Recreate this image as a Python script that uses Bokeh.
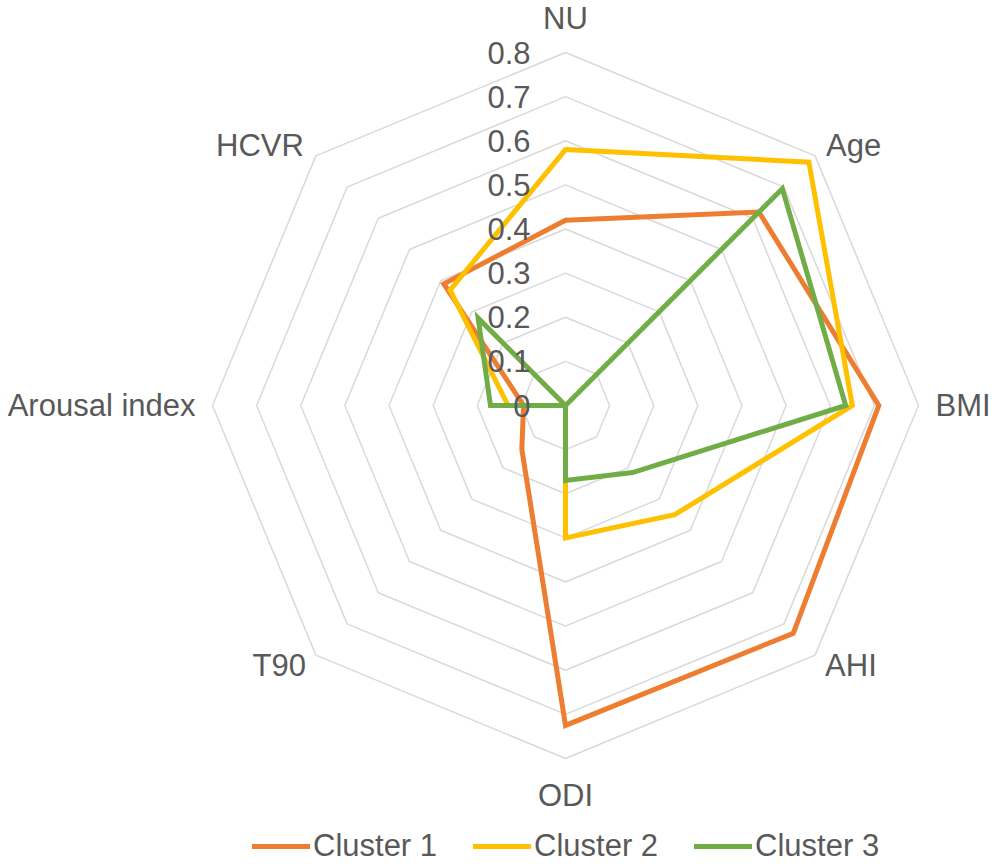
import numpy as np
from bokeh.plotting import figure
from bokeh.models import Range1d, Legend, LegendItem, ColumnDataSource
from bokeh.core.properties import value
from bokeh.embed import file_html
from bokeh.resources import INLINE

# ---- data ----
categories = ["NU", "Age", "BMI", "AHI", "ODI", "T90", "Arousal index", "HCVR"]
cluster1 = [0.42, 0.62, 0.71, 0.73, 0.725, 0.14, 0.095, 0.39]
cluster2 = [0.58, 0.78, 0.65, 0.35, 0.30, 0.0, 0.13, 0.37]
cluster3 = [0.0, 0.695, 0.635, 0.215, 0.17, 0.0, 0.17, 0.28]
series_names = ["Cluster 1", "Cluster 2", "Cluster 3"]
tick_values = [0, 0.1, 0.2, 0.3, 0.4, 0.5, 0.6, 0.7, 0.8]
tick_labels = ["0", "0.1", "0.2", "0.3", "0.4", "0.5", "0.6", "0.7", "0.8"]

# ---- style ----
colors = ["#ED7D31", "#FFC000", "#70AD47"]
FONT_NAME = "Liberation Sans"
FONT = value(FONT_NAME)
FS = "31px"
TXT = "#595959"
W, H = 992, 864
CX, CY = 565, 405          # centre in figure pixels
PPU = 441.25               # pixels per unit value

n = len(categories)
theta = np.pi / 2 - 2 * np.pi * np.arange(n) / n

p = figure(width=W, height=H, output_backend="svg", toolbar_location=None,
           x_range=Range1d(-CX / PPU, (W - CX) / PPU),
           y_range=Range1d(-(H - CY) / PPU, CY / PPU),
           min_border=0, outline_line_color=None)
p.axis.visible = False
p.grid.visible = False
p.background_fill_color = "white"

# grid polygons
gx, gy = [], []
for t in tick_values[1:]:
    gx.append(list(np.append(t * np.cos(theta), t * np.cos(theta[0]))))
    gy.append(list(np.append(t * np.sin(theta), t * np.sin(theta[0]))))
p.multi_line(gx, gy, line_color="#D9D9D9", line_width=1.5)

# series
renderers = []
for vals, col in zip([cluster1, cluster2, cluster3], colors):
    v = np.array(vals)
    xs = np.append(v * np.cos(theta), v[0] * np.cos(theta[0]))
    ys = np.append(v * np.sin(theta), v[0] * np.sin(theta[0]))
    r = p.line(xs, ys, line_color=col, line_width=5, line_join="miter", line_cap="round")
    renderers.append(r)

# radial tick labels
tick_src = ColumnDataSource(dict(x=[0.0] * len(tick_values), y=tick_values, t=tick_labels))
p.text(x="x", y="y", text="t", source=tick_src, x_offset=-35, y_offset=0,
       text_font=FONT, text_font_size=FS, text_color=TXT,
       text_align="right", text_baseline="middle")

# category labels
R = tick_values[-1]
aligns = ["center", "left", "left", "left", "center", "right", "right", "right"]
xoffs = [0, 11, 17, 10, 0, -10, -17, -12]
yoffs = [-34, -10, 0, 10, 37, 10, 0, -10]
lab_src = ColumnDataSource(dict(x=list(R * np.cos(theta)), y=list(R * np.sin(theta)),
                                t=categories, a=aligns, xo=xoffs, yo=yoffs))
p.text(x="x", y="y", text="t", source=lab_src, x_offset="xo", y_offset="yo",
       text_align="a", text_baseline="middle",
       text_font=FONT, text_font_size=FS, text_color=TXT)

legend = Legend(items=[LegendItem(label=nm, renderers=[r]) for nm, r in zip(series_names, renderers)],
                orientation="horizontal", location=(252, 0),
                glyph_width=58, glyph_height=26, label_height=26,
                label_standoff=3, spacing=36, padding=0, margin=0,
                border_line_alpha=0, background_fill_alpha=0,
                label_text_font=FONT_NAME, label_text_font_size=FS, label_text_color=TXT,
                label_text_baseline="middle")
p.add_layout(legend, "center")

open("out.html", "w").write(file_html(p, INLINE))
